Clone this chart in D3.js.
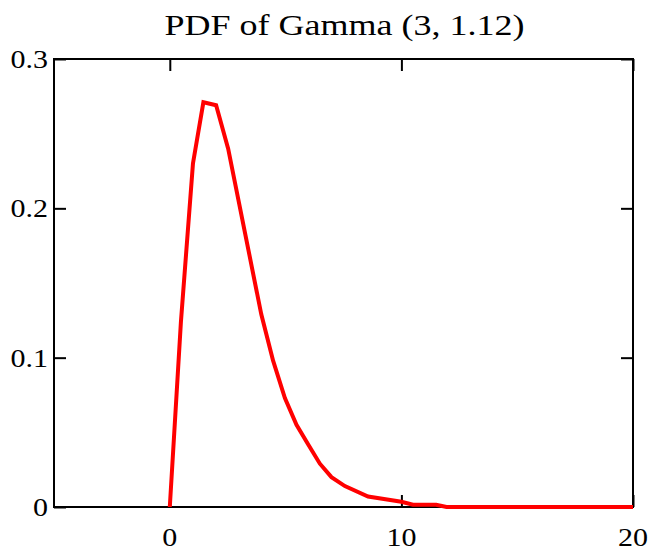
<!DOCTYPE html>
<html>
<head>
<meta charset="utf-8">
<script src="https://cdn.jsdelivr.net/npm/d3@7"></script>
<style>
  body { margin: 0; background: #fff; }
  text { font-family: "Liberation Serif", "Times New Roman", serif; fill: #000; }
</style>
</head>
<body>
<svg id="canvas"></svg>
<script>
// Curve vertices
const xValues = [0, 0.48, 1.0, 1.45, 2.0, 2.52, 3.95, 4.46, 4.97, 5.47, 5.97, 6.48, 6.98, 7.56, 8.56, 10.0, 10.5, 11.5, 11.95, 20];
const pdfValues = [0, 0.124, 0.230, 0.271, 0.269, 0.240, 0.129, 0.098, 0.073, 0.055, 0.042, 0.029, 0.020, 0.014, 0.007, 0.0035, 0.0015, 0.0015, 0, 0];
const xTicks = [0, 10, 20];
const yTicks = [0, 0.1, 0.2, 0.3];
const titleText = "PDF of Gamma (3, 1.12)";

const width = 660, height = 552;
const margin = { top: 59, right: 27, bottom: 45, left: 54 };
// text in the original looks stretched sideways
const stretch = 1.2;

const svg = d3.select("#canvas").attr("width", width).attr("height", height);

const x = d3.scaleLinear().domain([-5, 20]).range([margin.left, width - margin.right]);
const y = d3.scaleLinear().domain([0, 0.3]).range([height - margin.bottom, margin.top]);

// Title
svg.append("text")
   .attr("transform", `translate(${(margin.left + width - margin.right) / 2 + 1},35) scale(${stretch},1)`)
   .attr("text-anchor", "middle")
   .style("font-size", "30px")
   .text(titleText);

// Inward ticks on all four sides (labels drawn separately)
const tickLen = 12;
const fmt = d => d === 0 ? "0" : d3.format(".1f")(d);

svg.append("g")
   .attr("transform", `translate(0,${height - margin.bottom})`)
   .call(d3.axisBottom(x).tickValues(xTicks).tickSize(-tickLen).tickFormat(""));

svg.append("g")
   .attr("transform", `translate(0,${margin.top})`)
   .call(d3.axisTop(x).tickValues(xTicks).tickSize(-tickLen).tickFormat(""));

svg.append("g")
   .attr("transform", `translate(${margin.left},0)`)
   .call(d3.axisLeft(y).tickValues(yTicks).tickSize(-tickLen).tickFormat(""));

svg.append("g")
   .attr("transform", `translate(${width - margin.right},0)`)
   .call(d3.axisRight(y).tickValues(yTicks).tickSize(-tickLen).tickFormat(""));

svg.selectAll(".domain").remove();
svg.selectAll(".tick line").attr("stroke", "#000").attr("stroke-width", 2);

// Tick labels
svg.selectAll(".xlabel")
   .data(xTicks)
   .enter()
   .append("text")
   .attr("class", "xlabel")
   .attr("transform", d => `translate(${x(d)},${height - 6}) scale(${stretch},1)`)
   .attr("text-anchor", "middle")
   .style("font-size", "25px")
   .text(d3.format("d"));

svg.selectAll(".ylabel")
   .data(yTicks)
   .enter()
   .append("text")
   .attr("class", "ylabel")
   .attr("transform", d => `translate(${margin.left - 6},${y(d) + 9}) scale(${stretch},1)`)
   .attr("text-anchor", "end")
   .style("font-size", "25px")
   .text(fmt);

// Frame
svg.append("rect")
   .attr("x", margin.left)
   .attr("y", margin.top)
   .attr("width", width - margin.left - margin.right)
   .attr("height", height - margin.top - margin.bottom)
   .attr("fill", "none")
   .attr("stroke", "#000")
   .attr("stroke-width", 2);

// PDF curve
const line = d3.line()
   .x((d, i) => x(xValues[i]))
   .y(d => y(d));

svg.append("path")
   .datum(pdfValues)
   .attr("d", line)
   .attr("fill", "none")
   .attr("stroke", "#ff0000")
   .attr("stroke-width", 4)
   .attr("stroke-linejoin", "miter");
</script>
</body>
</html>
